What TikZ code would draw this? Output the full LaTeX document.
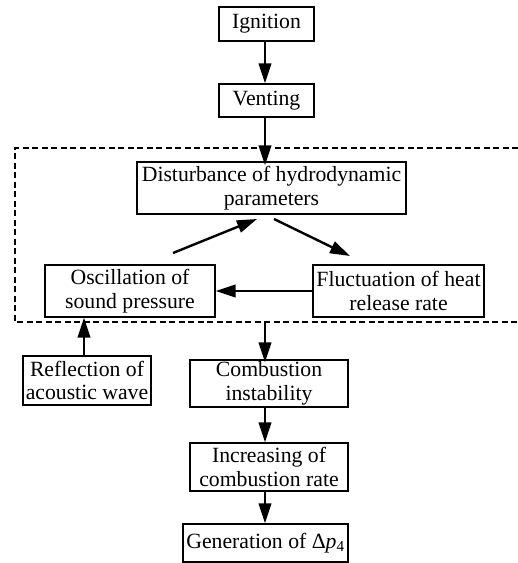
\documentclass[tikz,border=0pt]{standalone}
\usepackage{fontspec}
\setmainfont{Liberation Serif}
\usetikzlibrary{arrows.meta}
\begin{document}
\begin{tikzpicture}[x=1bp,y=-1bp,
  box/.style={draw,line width=1.4bp,inner sep=0pt,align=center,font=\fontsize{21.8}{23.5}\selectfont},
  arr/.style={line width=2.4bp,-{Triangle[length=20bp,width=12.5bp]}},
  dash box/.style={line width=1.1bp,dash pattern=on 6bp off 3.5bp}]
\useasboundingbox (0,0) rectangle (518,563);
\node[box,minimum width=95bp,minimum height=34bp] (ign) at (266.5,24) {Ignition};
\node[box,minimum width=95bp,minimum height=33bp] (vent) at (266.5,100.5) {Venting};
\node[box,minimum width=269bp,minimum height=52bp] (dist) at (271.5,188) {Disturbance of hydrodynamic\\parameters};
\node[box,minimum width=170bp,minimum height=52bp] (osc) at (130,291) {Oscillation of\\sound pressure};
\node[box,minimum width=171bp,minimum height=52bp] (fluc) at (398.5,291) {Fluctuation of heat\\release rate};
\node[box,minimum width=128bp,minimum height=49bp] (refl) at (87,380.5) {Reflection of\\acoustic wave};
\node[box,minimum width=158bp,minimum height=47bp] (comb) at (269,383.5) {Combustion\\instability};
\node[box,minimum width=158bp,minimum height=48bp] (incr) at (269,467) {Increasing of\\combustion rate};
\node[box,minimum width=165bp,minimum height=38bp] (gen) at (265.5,543) {Generation of Δ\textit{p}\textsubscript{4}};
% dashed region
\draw[dash box] (518,148) -- (275,148);
\draw[dash box] (257,148) -- (15,148) -- (15,322) -- (518,322);
% coordinates
\coordinate (ot) at (173,253);
\coordinate (dl) at (257,219);
\coordinate (dr) at (274,219);
\coordinate (ft) at (350,256);
\coordinate (db) at (265,322);
% arrows
\draw[arr] (ign.south -| 265,0) -- (vent.north -| 265,0);
\draw[arr] (vent.south -| 265,0) -- ([yshift=-4bp]dist.north -| 265,0);
\draw[arr] (ot) -- (dl);
\draw[arr] (dr) -- (ft);
\draw[arr] (fluc.west) -- (osc.east);
\draw[arr] (refl.north -| 84,0) -- (osc.south -| 84,0);
\draw[arr] (db) -- ([yshift=-3bp]comb.north -| 265,0);
\draw[arr] (comb.south -| 265,0) -- (incr.north -| 265,0);
\draw[arr] (incr.south -| 265,0) -- (gen.north -| 265,0);
\end{tikzpicture}
\end{document}
